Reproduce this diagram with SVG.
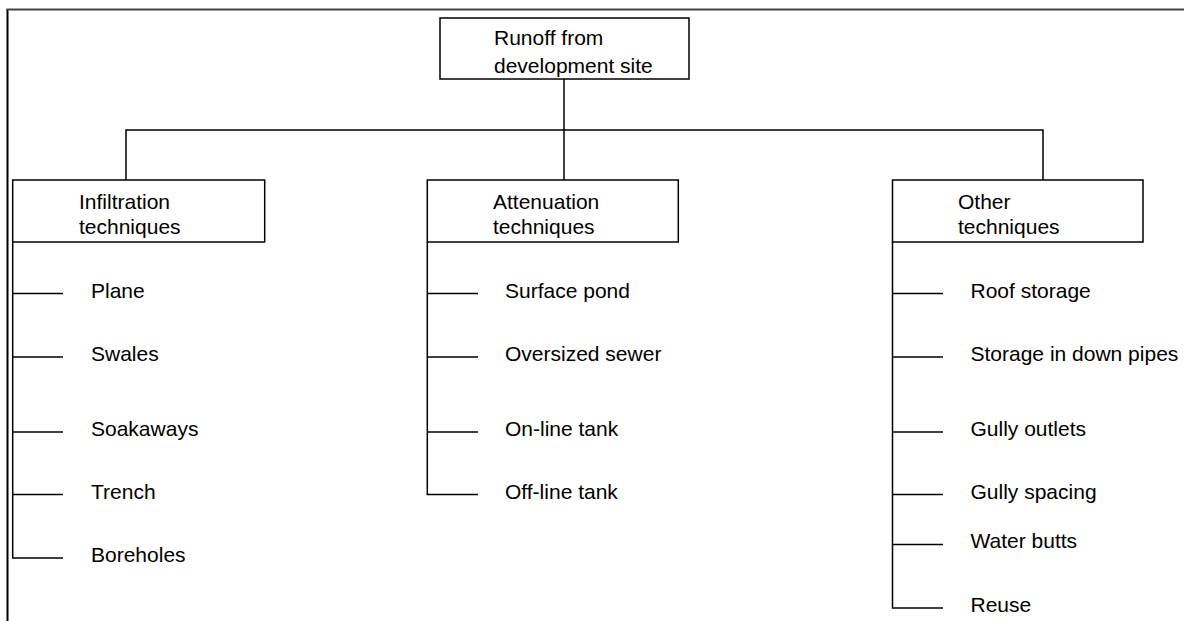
<svg xmlns="http://www.w3.org/2000/svg" width="1184" height="621" viewBox="0 0 1184 621">
<style>
.box{fill:#fff;stroke:#000;stroke-width:1.5}
.ln{stroke:#000;stroke-width:1.5;fill:none}
text{font-family:"Liberation Sans",Arial,sans-serif;font-size:21px;fill:#000}
</style>
<rect width="1184" height="621" fill="#fff"/>
<g id="frame">
<path d="M7.5,621 V9" stroke="#000" stroke-width="2" fill="none"/>
<path d="M6.5,9.5 H1184" stroke="#444" stroke-width="2" fill="none"/>
</g>
<g id="connectors">
<path class="ln" d="M564,79 V180"/>
<path class="ln" d="M126,180 V130 H1043 V180"/>
<path class="ln" d="M12.7,242 V558 H63 M12.7,293.5 H63 M12.7,357 H63 M12.7,432 H63 M12.7,494.5 H63"/>
<path class="ln" d="M427.3,242 V494.5 H478 M427.3,293.5 H478 M427.3,357 H478 M427.3,432 H478"/>
<path class="ln" d="M892.5,242 V608 H943 M892.5,293.5 H943 M892.5,357 H943 M892.5,432 H943 M892.5,494.5 H943 M892.5,544.5 H943"/>
</g>
<g id="root"><rect class="box" x="440" y="18" width="249" height="61"/><text x="494" y="45">Runoff from</text><text x="494" y="72.5">development site</text></g>
<g id="infiltration"><rect class="box" x="12.7" y="180" width="252" height="62"/><text x="79" y="209">Infiltration</text><text x="79" y="233.5">techniques</text></g>
<g id="attenuation"><rect class="box" x="427.3" y="180" width="251" height="62"/><text x="493" y="209">Attenuation</text><text x="493" y="233.5">techniques</text></g>
<g id="other"><rect class="box" x="892.5" y="180" width="250.5" height="62"/><text x="958" y="209">Other</text><text x="958" y="233.5">techniques</text></g>
<g id="plane"><text x="91" y="297.5">Plane</text></g>
<g id="swales"><text x="91" y="361">Swales</text></g>
<g id="soakaways"><text x="91" y="436">Soakaways</text></g>
<g id="trench"><text x="91" y="498.5">Trench</text></g>
<g id="boreholes"><text x="91" y="562">Boreholes</text></g>
<g id="surface-pond"><text x="505" y="297.5">Surface pond</text></g>
<g id="oversized-sewer"><text x="505" y="361">Oversized sewer</text></g>
<g id="online-tank"><text x="505" y="436">On-line tank</text></g>
<g id="offline-tank"><text x="505" y="498.5">Off-line tank</text></g>
<g id="roof-storage"><text x="970.5" y="297.5">Roof storage</text></g>
<g id="storage-down-pipes"><text x="970.5" y="361">Storage in down pipes</text></g>
<g id="gully-outlets"><text x="970.5" y="436">Gully outlets</text></g>
<g id="gully-spacing"><text x="970.5" y="498.5">Gully spacing</text></g>
<g id="water-butts"><text x="970.5" y="548">Water butts</text></g>
<g id="reuse"><text x="970.5" y="611.5">Reuse</text></g>
</svg>
